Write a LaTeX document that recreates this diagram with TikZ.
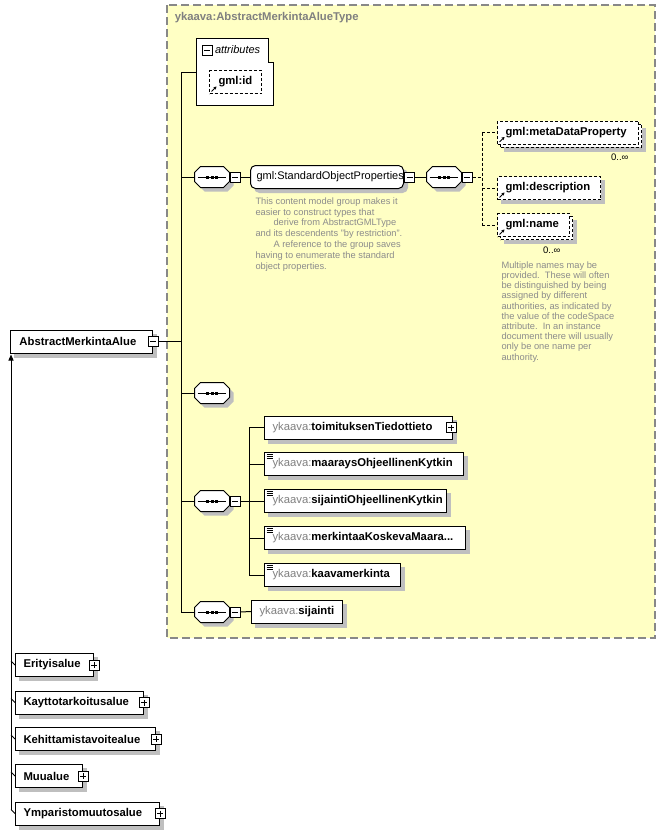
\documentclass[tikz,border=0pt]{standalone}
\usepackage{fontspec}
\setmainfont{Liberation Sans}
\usepackage{tikz}
\usetikzlibrary{calc,positioning,arrows.meta}
\definecolor{paleyellow}{RGB}{255,255,196}
\definecolor{dashgrey}{RGB}{136,136,136}
\definecolor{prefixgrey}{RGB}{128,128,128}
\definecolor{notegrey}{RGB}{140,140,140}
\newcommand{\pfx}{{\mdseries\color{prefixgrey}ykaava:}}

\begin{document}
\begin{tikzpicture}[x=1pt,y=-1pt,line width=1pt,font=\fontsize{11.3}{13}\selectfont]

\tikzset{elemnode/.style={draw,fill=white,anchor=west,minimum height=23pt,inner xsep=8pt,inner ysep=0pt,align=left,font=\fontsize{11.3}{13}\selectfont\bfseries},
optnode/.style={elemnode,dash pattern=on 3pt off 2pt},
groupnode/.style={elemnode,rounded corners=5pt,inner xsep=6pt,font=\fontsize{11}{13}\selectfont},
shadownode/.style={fill=black!25,draw=black!25,anchor=west,minimum height=23pt,minimum width=#1,inner sep=0pt},
copynode/.style={fill=white,draw,dash pattern=on 3pt off 2pt,anchor=west,minimum height=23pt,minimum width=#1,inner sep=0pt},
refnode/.style={path picture={\draw[solid,line width=0.9pt,-{Stealth[length=3pt,width=3.5pt]}] ([xshift=2pt,yshift=2pt]path picture bounding box.south west) -- +(5pt,5pt);}},
simplenode/.style={path picture={\foreach \dy in {2,4,6} \draw[line width=0.7pt] ([xshift=2pt,yshift=-\dy pt]path picture bounding box.north west) -- +(6pt,0pt);}},
seqnode/.style={rectangle,minimum width=34pt,minimum height=20pt,inner sep=0pt},
minusnode/.style={draw,fill=white,minimum size=10pt,inner sep=0pt,path picture={\draw ([xshift=2pt]path picture bounding box.west) -- ([xshift=-2pt]path picture bounding box.east);}},
plusnode/.style={draw,fill=white,minimum size=10pt,inner sep=0pt,path picture={\draw ([xshift=2pt]path picture bounding box.west) -- ([xshift=-2pt]path picture bounding box.east); \draw ([yshift=-2pt]path picture bounding box.north) -- ([yshift=2pt]path picture bounding box.south);}},
notetext/.style={text=notegrey,font=\fontsize{9.3}{10.8}\selectfont,align=left,anchor=north west,inner sep=0pt},
multlabel/.style={font=\fontsize{9.5}{11}\selectfont,anchor=east,inner sep=0pt}}

\useasboundingbox (0,0) rectangle (666,835);

% Complex type frame
\draw[fill=paleyellow,draw=dashgrey,line width=1.5pt,dash pattern=on 8pt off 4pt] (167,5) rectangle (655,638);
\node[anchor=west,text=prefixgrey,font=\fontsize{11.3}{13}\selectfont\bfseries] (typeTitle) at (171,18) {ykaava:AbstractMerkintaAlueType};

% Shadows
\foreach \n/\px/\py/\w in {absAlue/10/341.5/142, gmlId/209/82/52, desc/497/188/103, toim/264/427.5/188, maar/264/464/199, sijOhj/264/501/182, merk/264/538/201, kaava/264/575/136, sijainti/251/611.5/91, erit/15/665/78, kayt/15/702.5/128, kehi/15/739/140, muua/15/776/67, ympa/15/813.5/144}
  \node[shadownode=\w pt] (\n Shadow) at ($(\px,\py)+(4,4)$) {};
\node[shadownode=153pt,rounded corners=5pt] (sopShadow) at (254,181) {};
\foreach \n/\px/\py/\w in {meta/497/132.5/141, name/497/225/72} {
  \node[shadownode=\w pt] (\n Shadow) at ($(\px,\py)+(7,7)$) {};
  \node[copynode=\w pt] (\n Copy) at ($(\px,\py)+(3,3)$) {};
}

% Attributes
\draw[fill=white] (196,38) -- (268,38) -- (268,62) -- (273,62) -- (273,105) -- (196,105) -- cycle;
\node[minusnode] (attrMinus) at (207,50) {};
\node[anchor=west,inner xsep=2pt,font=\fontsize{11}{13}\selectfont\itshape] (attrLabel) at (attrMinus.east) {attributes};
\node[optnode,refnode,inner xsep=9pt,text width=34pt] (gmlId) at (209,82) {gml:id};
\coordinate (attrIn) at (196,72);

% Root element
\node[elemnode,inner xsep=9pt,text width=124pt] (absAlue) at (10,341.5) {AbstractMerkintaAlue};
\node[minusnode] (absMinus) at (absAlue.east) {};

% Sequence compositors
\node[seqnode] (seq1) at (212,177) {};
\node[seqnode] (seq2) at (444,177) {};
\node[seqnode] (seq3) at (212,393) {};
\node[seqnode] (seq4) at (212,501) {};
\node[seqnode] (seq5) at (212,612) {};
\foreach \s in {seq1,seq2,seq3,seq4,seq5} {
  \fill[black!25] ($(\s.north west)+(10,4)$) -- ($(\s.north east)+(-2,4)$) -- ($(\s.north east)+(4,10)$) -- ($(\s.south east)+(4,-2)$) -- ($(\s.south east)+(-2,4)$) -- ($(\s.south west)+(10,4)$) -- ($(\s.south west)+(4,-2)$) -- ($(\s.north west)+(4,10)$) -- cycle;
  \draw[fill=white] ([xshift=6pt]\s.north west) -- ([xshift=-6pt]\s.north east) -- ([yshift=-6pt]\s.north east) -- ([yshift=6pt]\s.south east) -- ([xshift=-6pt]\s.south east) -- ([xshift=6pt]\s.south west) -- ([yshift=6pt]\s.south west) -- ([yshift=-6pt]\s.north west) -- cycle;
  \draw ([xshift=3pt]\s.west) -- ([xshift=-4pt]\s.east);
  \foreach \dx in {-6,-1.5,3} \fill[black] ([xshift=\dx pt,yshift=-1.5pt]\s.center) rectangle +(3pt,3pt);
}
\node[minusnode,anchor=west] (seq1Minus) at (seq1.east) {};
\node[minusnode,anchor=west] (seq2Minus) at (seq2.east) {};
\node[minusnode,anchor=west] (seq4Minus) at (seq4.east) {};
\node[minusnode,anchor=west] (seq5Minus) at (seq5.east) {};

% Standard object properties group
\node[groupnode,text width=141pt] (sop) at (250,177) {gml:StandardObjectProperties};
\node[minusnode,anchor=west] (sopMinus) at (sop.east) {};
\node[notetext] (sopNote) at (255,197) {This content model group makes it\\easier to construct types that\\\hspace*{18pt}derive from AbstractGMLType\\and its descendents "by restriction".\\\hspace*{18pt}A reference to the group saves\\having to enumerate the standard\\object properties.};

% gml choice elements
\node[optnode,refnode,text width=125pt] (meta) at (497,132.5) {gml:metaDataProperty};
\node[optnode,refnode,text width=87pt] (desc) at (497,188) {gml:description};
\node[optnode,refnode,text width=56pt] (name) at (497,225) {gml:name};
\node[multlabel] (metaMult) at (629,157) {0..∞};
\node[multlabel] (nameMult) at (561,250) {0..∞};
\node[notetext,font=\fontsize{9.3}{10.2}\selectfont] (nameNote) at (501,261) {Multiple names may be\\provided.\ \ These will often\\be distinguished by being\\assigned by different\\authorities, as indicated by\\the value of the codeSpace\\attribute.\ \ In an instance\\document there will usually\\only be one name per\\authority.};

% ykaava elements
\node[elemnode,text width=172pt] (toim) at (264,427.5) {\pfx toimituksenTiedottieto};
\node[elemnode,simplenode,text width=183pt] (maar) at (264,464) {\pfx maaraysOhjeellinenKytkin};
\node[elemnode,simplenode,text width=166pt] (sijOhj) at (264,501) {\pfx sijaintiOhjeellinenKytkin};
\node[elemnode,simplenode,text width=185pt] (merk) at (264,538) {\pfx merkintaaKoskevaMaara...};
\node[elemnode,simplenode,text width=120pt] (kaava) at (264,575) {\pfx kaavamerkinta};
\node[elemnode,text width=75pt] (sijainti) at (251,611.5) {\pfx sijainti};
\node[plusnode] (toimPlus) at ([xshift=-2pt]toim.east) {};

% Derived types
\node[elemnode,text width=62pt] (erit) at (15,665) {Erityisalue};
\node[elemnode,text width=112pt] (kayt) at (15,702.5) {Kayttotarkoitusalue};
\node[elemnode,text width=124pt] (kehi) at (15,739) {Kehittamistavoitealue};
\node[elemnode,text width=51pt] (muua) at (15,776) {Muualue};
\node[elemnode,text width=128pt] (ympa) at (15,813.5) {Ymparistomuutosalue};
\foreach \d in {erit,kayt,kehi,muua,ympa} \node[plusnode] (\d Plus) at (\d.east) {};

% Edges
\coordinate (busTop) at (181,72);
\coordinate (busBot) at (181,612);
\draw (busTop) -- (busBot); \draw (busTop) -- (attrIn); \draw (absMinus.east) -- (absMinus.east -| busTop);
\foreach \s in {seq1,seq3,seq4,seq5} \draw (\s.west -| busTop) -- (\s.west);
\draw (seq1Minus.east) -- (sop.west); \draw (sopMinus.east) -- (seq2.west); \draw (seq5Minus.east) -- (sijainti.west);

\coordinate (optTop) at (482,132.5);
\coordinate (optBot) at (482,225);
\draw[dash pattern=on 3pt off 2pt] (optTop) -- (optBot); \draw[dash pattern=on 3pt off 2pt] (seq2Minus.east) -- (seq2Minus.east -| optTop);
\foreach \g in {meta,desc,name} \draw[dash pattern=on 3pt off 2pt] (\g.west -| optTop) -- (\g.west);

\coordinate (grpTop) at (249,427.5);
\coordinate (grpBot) at (249,575);
\draw (grpTop) -- (grpBot); \draw (seq4Minus.east) -- (seq4Minus.east -| grpTop);
\foreach \e in {toim,maar,sijOhj,merk,kaava} \draw (\e.west -| grpTop) -- (\e.west);

% Inheritance
\coordinate (inhTop) at (11,354.5);
\coordinate (inhBot) at (11,809.5);
\draw[-{Triangle[length=6pt,width=5pt]}] (inhBot) -- (inhTop);
\foreach \d in {erit,kayt,kehi,muua,ympa} \draw ($(\d.west -| inhTop)+(0,-4)$) -- (\d.west);

\end{tikzpicture}
\end{document}
